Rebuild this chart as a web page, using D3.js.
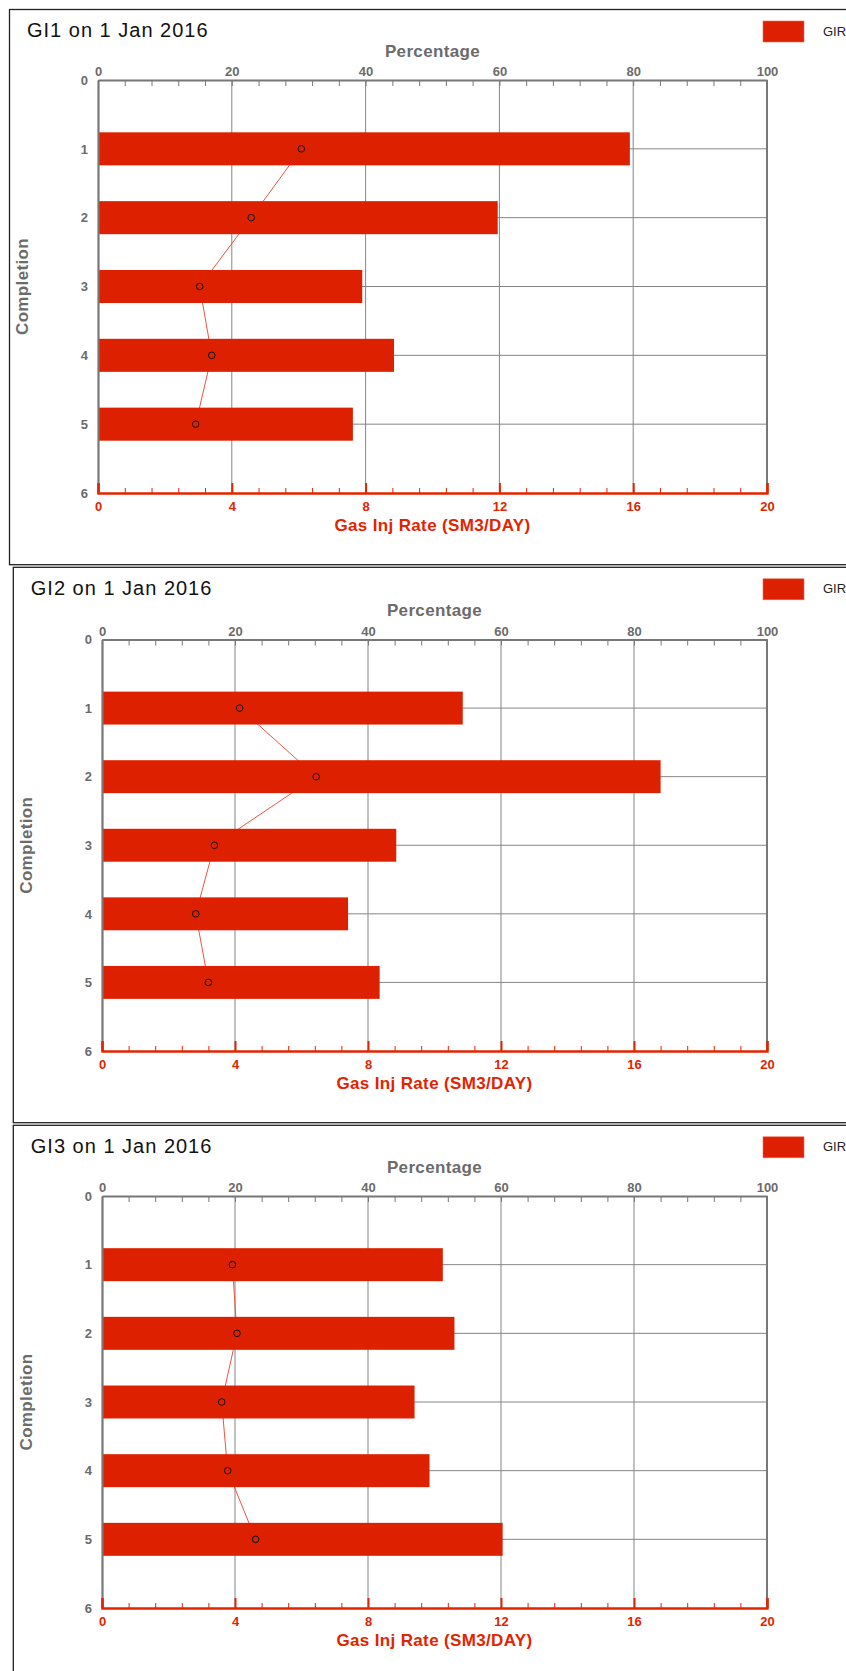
<!DOCTYPE html>
<html>
<head>
<meta charset="utf-8">
<script src="https://cdn.jsdelivr.net/npm/d3@7"></script>
<style>
  html, body { margin: 0; padding: 0; background: #fff; }
  svg { display: block; }
  text { font-family: "Liberation Sans", Arial, sans-serif; }
</style>
</head>
<body>
<svg id="chart" width="846" height="1671"></svg>
<script>
// Gas injection rate per completion for each gas injector, 1 Jan 2016
const wells = ["GI1", "GI2", "GI3"];
const completions = [1, 2, 3, 4, 5];

const girGI1 = [15.9, 11.95, 7.9, 8.85, 7.62];
const girGI2 = [10.85, 16.8, 8.85, 7.4, 8.35];
const girGI3 = [10.25, 10.6, 9.4, 9.85, 12.05];

// Share of the well's total injection taken by each completion (%)
const pctGI1 = [30.4, 22.9, 15.2, 17.0, 14.6];
const pctGI2 = [20.7, 32.2, 16.9, 14.1, 16.0];
const pctGI3 = [19.6, 20.3, 18.0, 18.9, 23.1];

const rateTicks = [0, 4, 8, 12, 16, 20];
const pctTicks = [0, 20, 40, 60, 80, 100];
const completionTicks = [0, 1, 2, 3, 4, 5, 6];

const girByWell = [girGI1, girGI2, girGI3];
const pctByWell = [pctGI1, pctGI2, pctGI3];

// Panel frames and plot areas
const panels = [
  { left: 9.5,  top: 9.5,    bottom: 564.7,  plotL: 98,  plotT: 80,    plotB: 493 },
  { left: 13.3, top: 567.3,  bottom: 1122.7, plotL: 102, plotT: 639.5, plotB: 1051 },
  { left: 13.3, top: 1125.3, bottom: 1690,   plotL: 102, plotT: 1196,  plotB: 1608 }
];
const plotR = 767;

const RED = "#dd2100";
const AXIS_RED = "#e22400";
const GRAY = "#777777";
const LABEL_GRAY = "#6b6b6b";

const svg = d3.select("#chart");

wells.forEach((well, i) => {
  const p = panels[i];
  const gir = girByWell[i];
  const pct = pctByWell[i];
  const rows = completions.map((c, k) => ({ c, gir: gir[k], pct: pct[k] }));

  const g = svg.append("g");

  // panel frame
  g.append("rect")
    .attr("x", p.left).attr("y", p.top)
    .attr("width", 900).attr("height", p.bottom - p.top)
    .attr("fill", "none").attr("stroke", "#222").attr("stroke-width", 1.3);

  // title
  g.append("text")
    .attr("x", p.left + 17.5).attr("y", p.top + 27.5)
    .attr("font-size", 20).attr("letter-spacing", 1)
    .attr("fill", "#111")
    .text(`${well} on 1 Jan 2016`);

  // legend
  g.append("rect")
    .attr("x", 763).attr("y", p.top + 11.5)
    .attr("width", 41).attr("height", 21)
    .attr("fill", RED).attr("stroke", "#ee6a55").attr("stroke-width", 0.6);
  g.append("text")
    .attr("x", 823).attr("y", p.top + 26)
    .attr("font-size", 13).attr("fill", "#222")
    .text("GIR");

  const x = d3.scaleLinear().domain([0, 20]).range([p.plotL, plotR]);
  const xp = d3.scaleLinear().domain([0, 100]).range([p.plotL, plotR]);
  const y = d3.scaleLinear().domain([0, 6]).range([p.plotT, p.plotB]);
  const barH = 0.48 * (y(1) - y(0));

  // grid lines
  g.append("g").selectAll("line")
    .data(rateTicks.filter(t => t > 0 && t < 20))
    .join("line")
    .attr("x1", d => x(d)).attr("x2", d => x(d))
    .attr("y1", p.plotT).attr("y2", p.plotB)
    .attr("stroke", "#858585").attr("stroke-width", 1);
  g.append("g").selectAll("line")
    .data(completions)
    .join("line")
    .attr("x1", p.plotL).attr("x2", plotR)
    .attr("y1", d => y(d)).attr("y2", d => y(d))
    .attr("stroke", "#858585").attr("stroke-width", 1);

  // percentage profile line (sits beneath the bars)
  g.append("path")
    .datum(rows)
    .attr("fill", "none")
    .attr("stroke", "#f0533f").attr("stroke-width", 1)
    .attr("d", d3.line().x(d => xp(d.pct)).y(d => y(d.c)));

  // rate bars
  g.append("g").selectAll("rect")
    .data(rows)
    .join("rect")
    .attr("x", p.plotL)
    .attr("y", d => y(d.c) - barH / 2)
    .attr("width", d => x(d.gir) - p.plotL)
    .attr("height", barH)
    .attr("fill", RED);

  // percentage markers
  g.append("g").selectAll("circle")
    .data(rows)
    .join("circle")
    .attr("cx", d => xp(d.pct)).attr("cy", d => y(d.c))
    .attr("r", 3.3)
    .attr("fill", "none").attr("stroke", "#111").attr("stroke-width", 1);

  // top axis: percentage
  const topMinor = g.append("g").attr("transform", `translate(0,${p.plotT})`)
    .call(d3.axisTop(xp).tickValues(d3.range(0, 101, 4)).tickSize(-6).tickFormat(""));
  topMinor.select(".domain").remove();
  topMinor.selectAll("line").attr("stroke", GRAY).attr("stroke-width", 1);

  const topAxis = g.append("g").attr("transform", `translate(0,${p.plotT})`)
    .call(d3.axisTop(xp).tickValues(pctTicks).tickSize(0).tickPadding(4));
  topAxis.select(".domain").attr("stroke", GRAY).attr("stroke-width", 2);
  topAxis.selectAll("text")
    .attr("font-family", "'Liberation Sans', Arial, sans-serif")
    .attr("font-size", 13).attr("font-weight", "bold").attr("fill", LABEL_GRAY);

  g.append("text")
    .attr("x", (p.plotL + plotR) / 2).attr("y", p.plotT - 23.5)
    .attr("text-anchor", "middle")
    .attr("font-size", 17).attr("font-weight", "bold").attr("letter-spacing", 0.35)
    .attr("fill", LABEL_GRAY)
    .text("Percentage");

  // left and right axes
  const leftAxis = g.append("g").attr("transform", `translate(${p.plotL},0)`)
    .call(d3.axisLeft(y).tickValues(completionTicks).tickSize(0).tickPadding(10).tickFormat(d3.format("d")));
  leftAxis.select(".domain").attr("stroke", GRAY).attr("stroke-width", 2.2);
  leftAxis.selectAll("text")
    .attr("font-family", "'Liberation Sans', Arial, sans-serif")
    .attr("font-size", 13).attr("font-weight", "bold").attr("fill", LABEL_GRAY);

  g.append("line")
    .attr("x1", plotR).attr("x2", plotR)
    .attr("y1", p.plotT).attr("y2", p.plotB)
    .attr("stroke", GRAY).attr("stroke-width", 2);

  g.append("text")
    .attr("transform", `translate(${p.plotL - 70},${(p.plotT + p.plotB) / 2}) rotate(-90)`)
    .attr("text-anchor", "middle")
    .attr("font-size", 17).attr("font-weight", "bold").attr("letter-spacing", 0.35)
    .attr("fill", LABEL_GRAY)
    .text("Completion");

  // bottom axis: gas injection rate
  const botMinor = g.append("g").attr("transform", `translate(0,${p.plotB})`)
    .call(d3.axisBottom(x).tickValues(d3.range(0, 20.01, 0.8)).tickSize(-5).tickFormat(""));
  botMinor.select(".domain").remove();
  botMinor.selectAll("line").attr("stroke", AXIS_RED).attr("stroke-width", 1);

  const botAxis = g.append("g").attr("transform", `translate(0,${p.plotB})`)
    .call(d3.axisBottom(x).tickValues(rateTicks).tickSize(-10).tickPadding(8.5));
  botAxis.select(".domain").attr("stroke", AXIS_RED).attr("stroke-width", 2.4);
  botAxis.selectAll("line").attr("stroke", AXIS_RED).attr("stroke-width", 2);
  botAxis.selectAll("text")
    .attr("font-family", "'Liberation Sans', Arial, sans-serif")
    .attr("font-size", 13).attr("font-weight", "bold").attr("fill", AXIS_RED);

  g.append("text")
    .attr("x", (p.plotL + plotR) / 2).attr("y", p.plotB + 38)
    .attr("text-anchor", "middle")
    .attr("font-size", 17).attr("font-weight", "bold").attr("letter-spacing", 0.35)
    .attr("fill", AXIS_RED)
    .text("Gas Inj Rate (SM3/DAY)");
});
</script>
</body>
</html>
